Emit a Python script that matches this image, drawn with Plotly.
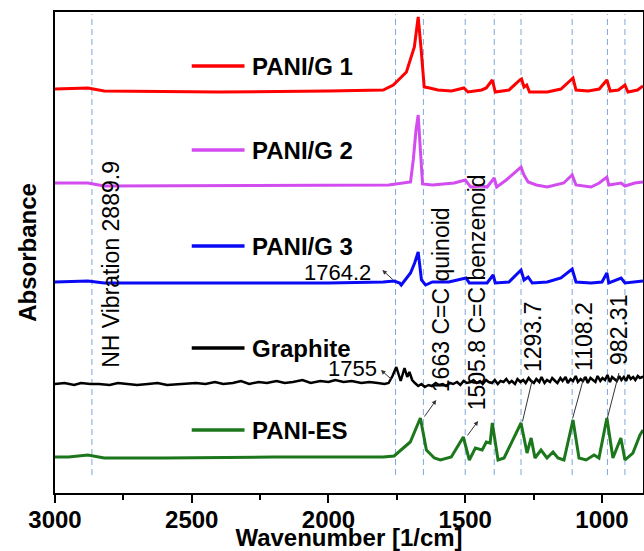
import plotly.graph_objects as go

FONT = "Arial, Liberation Sans, sans-serif"

# ---------------- data (wavenumber in 1/cm, absorbance in arbitrary offset units) -------------
wn_g1 = [3000, 2880, 2820, 2400, 2000, 1800, 1763, 1715, 1686, 1672, 1661, 1650, 1630, 1600, 1550,
         1505, 1490, 1440, 1423, 1401, 1390, 1340, 1300, 1294, 1285, 1275, 1265, 1200, 1150, 1106,
         1095, 1050, 1010, 982, 970, 940, 916, 905, 870, 850]
abs_g1 = [4.04, 4.05, 4.02, 4.01, 4.02, 4.03, 4.08, 4.21, 4.46, 4.76, 4.43, 4.06, 4.05, 4.03, 4.02,
          4.05, 4.01, 4.03, 4.05, 4.13, 4.01, 4.03, 4.13, 4.14, 4.06, 4.08, 4.01, 4.01, 4.04, 4.15,
          4.03, 4.02, 4.04, 4.13, 4.02, 4.03, 4.08, 4.01, 4.03, 4.07]

wn_g2 = [3000, 2880, 2820, 2000, 1780, 1700, 1690, 1680, 1672, 1664, 1656, 1620, 1540, 1500, 1480,
         1440, 1420, 1394, 1385, 1350, 1296, 1285, 1270, 1240, 1200, 1140, 1109, 1095, 1040, 1010,
         982, 975, 930, 916, 880, 850]
abs_g2 = [3.10, 3.10, 3.07, 3.08, 3.08, 3.11, 3.33, 3.63, 3.78, 3.43, 3.09, 3.08, 3.10, 3.13, 3.06,
          3.07, 3.06, 3.15, 3.06, 3.13, 3.26, 3.18, 3.11, 3.08, 3.06, 3.10, 3.18, 3.08, 3.06, 3.10,
          3.16, 3.08, 3.10, 3.07, 3.10, 3.11]

wn_g3 = [3000, 2880, 2820, 2000, 1800, 1760, 1740, 1734, 1700, 1685, 1672, 1660, 1645, 1620, 1560,
         1497, 1485, 1420, 1398, 1390, 1340, 1296, 1285, 1270, 1255, 1200, 1150, 1109, 1095, 1040,
         1000, 982, 975, 930, 916, 880, 850]
abs_g3 = [2.11, 2.12, 2.10, 2.10, 2.11, 2.12, 2.10, 2.08, 2.20, 2.30, 2.41, 2.13, 2.08, 2.11, 2.11,
          2.15, 2.10, 2.10, 2.18, 2.10, 2.11, 2.23, 2.13, 2.16, 2.10, 2.11, 2.15, 2.24, 2.11, 2.10,
          2.11, 2.20, 2.10, 2.15, 2.10, 2.11, 2.12]

wn_gr = [3000, 2965, 2930, 2905, 2870, 2840, 2800, 2770, 2735, 2700, 2660, 2625, 2590, 2550, 2520,
         2485, 2450, 2415, 2385, 2350, 2320, 2290, 2255, 2225, 2190, 2160, 2130, 2095, 2065, 2030,
         2000, 1975, 1945, 1915, 1880, 1850, 1820, 1795, 1780, 1766, 1752, 1742, 1736, 1722, 1712,
         1704, 1694, 1684, 1672, 1660, 1648, 1634, 1622, 1608, 1596, 1582, 1570, 1556, 1544, 1530,
         1518, 1506, 1494, 1480, 1470, 1458, 1446, 1436, 1424, 1414, 1402, 1392, 1381, 1371, 1360,
         1350, 1339, 1330, 1318, 1309, 1298, 1288, 1279, 1268, 1259, 1249, 1240, 1229, 1221, 1210,
         1201, 1190, 1182, 1171, 1163, 1152, 1144, 1133, 1125, 1115, 1106, 1096, 1088, 1078, 1070,
         1060, 1052, 1042, 1034, 1024, 1016, 1006, 998, 989, 980, 971, 963, 954, 946, 937,
         929, 920, 912, 903, 895, 886, 878, 869, 861, 853, 850]
abs_gr = [1.09, 1.10, 1.08, 1.10, 1.09, 1.09, 1.08, 1.10, 1.09, 1.08, 1.09, 1.10, 1.08, 1.09, 1.09,
          1.10, 1.09, 1.11, 1.09, 1.10, 1.12, 1.09, 1.11, 1.10, 1.12, 1.10, 1.11, 1.13, 1.10, 1.12,
          1.11, 1.13, 1.11, 1.12, 1.10, 1.11, 1.10, 1.09, 1.10, 1.17, 1.26, 1.16, 1.12, 1.25, 1.16,
          1.21, 1.13, 1.10, 1.07, 1.09, 1.06, 1.08, 1.07, 1.10, 1.08, 1.09, 1.07, 1.10, 1.09, 1.11,
          1.08, 1.12, 1.10, 1.11, 1.13, 1.10, 1.12, 1.09, 1.13, 1.11, 1.10, 1.13, 1.09, 1.12, 1.11,
          1.14, 1.10, 1.12, 1.09, 1.14, 1.11, 1.13, 1.10, 1.15, 1.12, 1.10, 1.14, 1.11, 1.16, 1.10,
          1.13, 1.11, 1.15, 1.12, 1.10, 1.15, 1.12, 1.16, 1.10, 1.14, 1.12, 1.17, 1.11, 1.14, 1.12,
          1.16, 1.10, 1.15, 1.13, 1.11, 1.17, 1.12, 1.15, 1.13, 1.18, 1.11, 1.16, 1.14, 1.12, 1.17,
          1.13, 1.16, 1.12, 1.18, 1.14, 1.16, 1.13, 1.17, 1.15, 1.16, 1.15]

wn_es = [3000, 2950, 2880, 2820, 2600, 2200, 1800, 1760, 1701, 1664, 1642, 1613, 1591, 1551, 1507,
         1485, 1463, 1438, 1423, 1409, 1401, 1380, 1358, 1321, 1296, 1274, 1259, 1245, 1223, 1201,
         1179, 1161, 1139, 1106, 1084, 1058, 1029, 1011, 982, 960, 931, 916, 887, 861, 850]
abs_es = [0.36, 0.36, 0.38, 0.35, 0.35, 0.36, 0.36, 0.37, 0.51, 0.75, 0.43, 0.35, 0.33, 0.36, 0.56,
          0.33, 0.45, 0.43, 0.51, 0.50, 0.70, 0.33, 0.35, 0.56, 0.70, 0.40, 0.55, 0.35, 0.43, 0.35,
          0.41, 0.35, 0.33, 0.73, 0.35, 0.33, 0.38, 0.35, 0.75, 0.35, 0.55, 0.33, 0.40, 0.58, 0.63]

series_names = ["PANI/G 1", "PANI/G 2", "PANI/G 3", "Graphite", "PANI-ES"]
series_colors = ["#ff0000", "#d24cf0", "#0a0af5", "#000000", "#1c771c"]
series_x = [wn_g1, wn_g2, wn_g3, wn_gr, wn_es]
series_y = [abs_g1, abs_g2, abs_g3, abs_gr, abs_es]
legend_y = [4.27, 3.43, 2.47, 1.45, 0.63]

# dashed marker lines (wavenumbers)
marker_wn = [2865, 1755, 1653, 1500, 1394, 1296, 1109, 980, 916]
marker_span = [0.18, 4.79]

# rotated peak labels: text, x, y
peak_labels = ["NH Vibration 2889.9", "1663 C=C quinoid", "1505.8 C=C benzenoid",
               "1293.7", "1108.2", "982.31"]
peak_label_x = [2796, 1588, 1456, 1252, 1066, 938]
peak_label_y = [2.29, 1.93, 2.01, 1.56, 1.57, 1.63]

# horizontal labels
flat_labels = ["1764.2", "1755"]
flat_label_x = [1967, 1912]
flat_label_y = [2.21, 1.25]

# pointer lines: head (x, y), tail (x, y), head style
ptr_head_x = [1803, 1808, 1606, 1453, 1255, 1066, 938]
ptr_head_y = [2.23, 1.23, 0.93, 0.72, 1.13, 1.16, 1.20]
ptr_tail_x = [1759, 1763, 1653, 1496, 1292, 1109, 982]
ptr_tail_y = [2.12, 1.12, 0.75, 0.56, 0.70, 0.73, 0.73]
ptr_headstyle = [2, 2, 2, 2, 0, 0, 0]

# legend sample positions
legend_line_x = [2500, 2307]
legend_text_x = 2288

# ----------------------------------------------------------------------------------------------
fig = go.Figure()

shapes = []
for w in marker_wn:
    shapes.append(dict(type="line", xref="x", yref="y", x0=w, x1=w,
                       y0=marker_span[0], y1=marker_span[1],
                       line=dict(color="#7fa8dc", width=1, dash="6px,4px"), layer="below"))

for name, xs, ys, col in zip(series_names, series_x, series_y, series_colors):
    fig.add_trace(go.Scatter(x=xs, y=ys, mode="lines", name=name, showlegend=False,
                             line=dict(color=col, width=3 if col != "#000000" else 2.5)))

annotations = []
for name, col, ly in zip(series_names, series_colors, legend_y):
    shapes.append(dict(type="line", xref="x", yref="y", x0=legend_line_x[0], x1=legend_line_x[1],
                       y0=ly, y1=ly, line=dict(color=col, width=3.5)))
    annotations.append(dict(x=legend_text_x, y=ly, xref="x", yref="y", text=name, showarrow=False,
                            xanchor="left", yanchor="middle",
                            font=dict(family=FONT, size=24, color="black", weight="bold")))

for t, x, y in zip(peak_labels, peak_label_x, peak_label_y):
    annotations.append(dict(x=x, y=y, xref="x", yref="y", text=t, showarrow=False, textangle=-90,
                            xanchor="center", yanchor="middle",
                            font=dict(family=FONT, size=23, color="black")))

for t, x, y in zip(flat_labels, flat_label_x, flat_label_y):
    annotations.append(dict(x=x, y=y, xref="x", yref="y", text=t, showarrow=False,
                            xanchor="center", yanchor="middle",
                            font=dict(family=FONT, size=22, color="black")))

for hx, hy, tx, ty, hs in zip(ptr_head_x, ptr_head_y, ptr_tail_x, ptr_tail_y, ptr_headstyle):
    annotations.append(dict(x=hx, y=hy, ax=tx, ay=ty, xref="x", yref="y", axref="x", ayref="y",
                            text="", showarrow=True, arrowhead=hs, arrowsize=0.9, arrowwidth=1,
                            arrowcolor="#333333"))

fig.update_layout(
    width=644, height=551,
    margin=dict(l=55, r=1, t=12, b=58, autoexpand=False),
    paper_bgcolor="white", plot_bgcolor="white",
    shapes=shapes, annotations=annotations,
    font=dict(family=FONT, color="black"),
    xaxis=dict(range=[3000, 850], tickvals=[3000, 2500, 2000, 1500, 1000],
               ticks="outside", ticklen=8, tickwidth=2, tickcolor="black",
               minor=dict(dtick=250, tick0=0, ticks="outside", ticklen=5, tickwidth=2, tickcolor="black"),
               showline=True, linewidth=2, linecolor="black", mirror=True,
               showgrid=False, zeroline=False, automargin=False,
               ticklabelstandoff=-4,
               tickfont=dict(family=FONT, size=24, color="black", weight="bold"),
               title=dict(text="Wavenumber [1/cm]", standoff=2,
                          font=dict(family=FONT, size=24, color="black", weight="bold"))),
    yaxis=dict(range=[0, 4.81], showticklabels=False, ticks="",
               showline=True, linewidth=2, linecolor="black", mirror=True,
               showgrid=False, zeroline=False, automargin=False,
               title=dict(text="Absorbance", standoff=10,
                          font=dict(family=FONT, size=24, color="black", weight="bold"))),
)

fig.write_html("out.html", config={"displayModeBar": False},
               post_script="document.body.style.margin='0';document.body.style.overflow='hidden';")
